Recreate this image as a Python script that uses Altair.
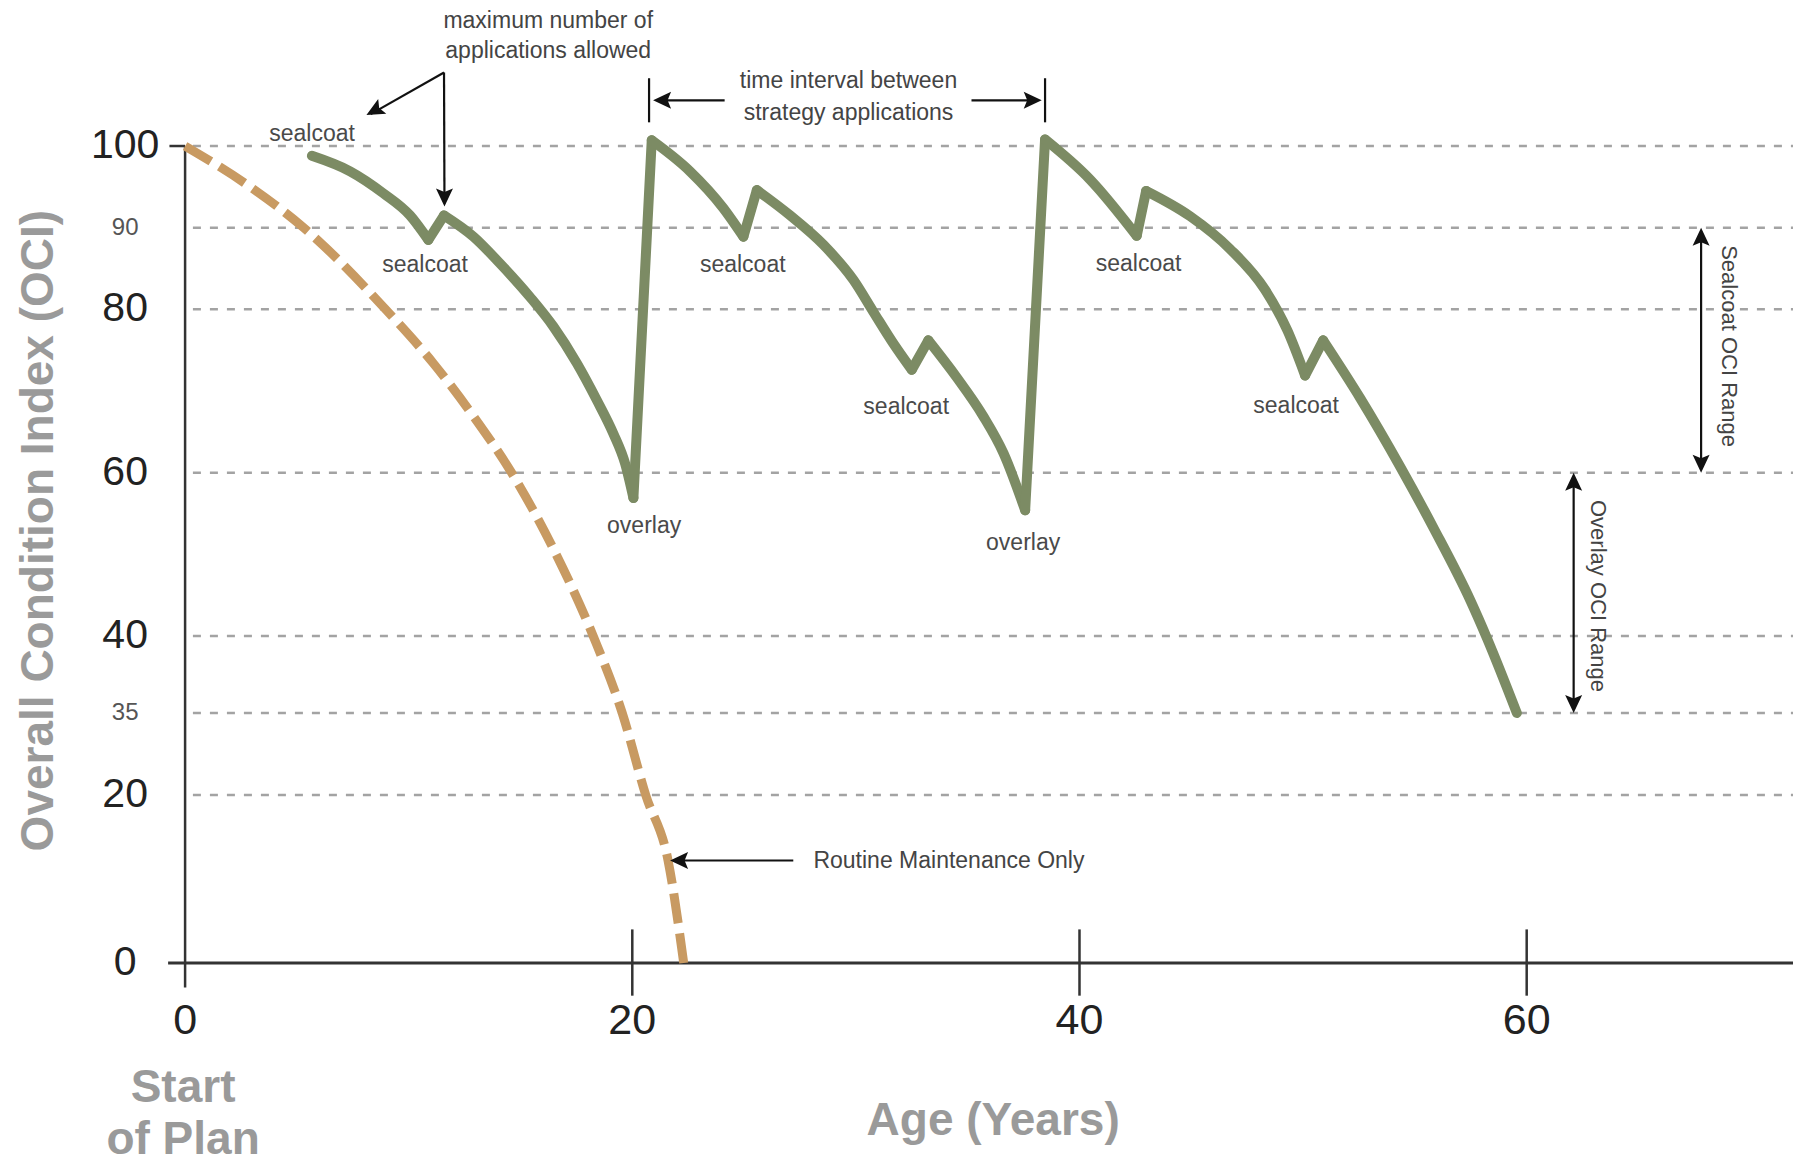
import altair as alt
import pandas as pd

# ---------------- data ----------------
# strategy curve (sealcoat / overlay applications)
green_x = [5.67, 7.38, 8.87, 10.06, 10.88, 11.58, 12.9, 14.09, 15.43, 16.47, 17.52, 18.41,
           19.15, 19.68, 20.05, 20.87, 22.58, 24.07, 24.97, 25.57, 27.06, 28.55, 29.89, 30.78,
           31.68, 32.5, 33.24, 34.5, 35.7, 36.6, 37.57, 38.46, 40.47, 42.56, 42.98, 44.95,
           46.73, 48.3, 49.3, 50.09, 50.9, 52.56, 54.35, 55.84, 57.49, 58.24, 59.56]
green_y = [98.8, 96.9, 94.2, 91.5, 88.5, 91.5, 88.9, 85.6, 81.5, 77.9, 73.4, 68.9,
           64.8, 61.1, 56.9, 100.7, 96.9, 92.4, 88.9, 94.6, 91.5, 87.9, 83.6, 79.7,
           75.8, 72.6, 76.2, 71.7, 66.9, 62.4, 55.4, 100.8, 95.9, 89.0, 94.5, 91.4,
           87.4, 82.4, 77.4, 71.9, 76.2, 69.1, 60.7, 53.2, 44.3, 39.8, 35.0]
# indices of the points where a treatment is applied (corners of the curve)
green_corners = [4, 5, 14, 15, 18, 19, 25, 26, 30, 31, 33, 34, 39, 40]

# routine maintenance only curve
orange_x = [0, 2.7, 5.3, 8.9, 11.1, 12.9, 14.6, 16.45, 18.25, 19.55, 20.6, 21.6, 22.3]
orange_y = [100, 95.4, 90, 80.2, 73.4, 66.9, 60, 50.8, 40, 35, 20, 12.2, 0]

grid_levels = [100, 90, 80, 60, 40, 35, 20]
y_big_ticks = [100, 80, 60, 40, 20, 0]
y_small_ticks = [90, 35]
x_ticks = [0, 20, 40, 60]

# annotation labels (data coordinates)
label_text = ["sealcoat", "sealcoat", "overlay", "sealcoat", "sealcoat", "overlay", "sealcoat", "sealcoat"]
label_x = [5.68, 10.73, 20.53, 24.94, 32.25, 37.48, 42.64, 49.69]
label_y = [101.5, 85.4, 53.5, 85.4, 68.1, 51.4, 85.5, 68.2]

note_text = ["maximum number of", "applications allowed", "time interval between",
             "strategy applications"]
note_x = [16.24, 16.24, 29.67, 29.67]
note_y = [115.3, 111.6, 108.0, 104.1]

# ---------------- scales ----------------
X_MIN, X_MAX = -7.92, 71.91
W, H = 1785, 1158
Y_BREAKS = [-24.85, 0, 20, 35, 40, 116.9]
Y_RANGE = [1158, 955, 787, 705, 628, 0]

XS = alt.Scale(domain=[X_MIN, X_MAX], nice=False, zero=False)
YS = alt.Scale(domain=Y_BREAKS, range=Y_RANGE, nice=False, zero=False)

FONT = "Liberation Sans, Arial, Helvetica, sans-serif"
AX = "#333333"


def X(f="x"):
    return alt.X(f"{f}:Q", scale=XS, axis=None)


def Y(f="y"):
    return alt.Y(f"{f}:Q", scale=YS, axis=None)


layers = []

# dashed gridlines
grid = pd.DataFrame({"x": [0.35] * len(grid_levels), "x2": [X_MAX] * len(grid_levels),
                     "y": grid_levels})
layers.append(alt.Chart(grid).mark_rule(color="#a3a3a3", strokeWidth=2.5, strokeDash=[8, 9])
              .encode(x=X(), x2="x2:Q", y=Y()))

# axes lines
axes = pd.DataFrame({
    "x": [0, -0.76, -0.7, 20, 40, 60],
    "x2": [0, X_MAX, 0, 20, 40, 60],
    "y": [-3, 0, 100, -4, -4, -4],
    "y2": [100, 0, 100, 4, 4, 4],
    "w": [2.5, 3.2, 2.5, 2.5, 2.5, 2.5],
})
layers.append(alt.Chart(axes).mark_rule(color=AX)
              .encode(x=X(), x2="x2:Q", y=Y(), y2="y2:Q",
                      strokeWidth=alt.StrokeWidth("w:Q", scale=None, legend=None)))

# routine maintenance curve
orange = pd.DataFrame({"x": orange_x, "y": orange_y, "o": range(len(orange_x))})
layers.append(alt.Chart(orange).mark_line(color="#c89a62", strokeWidth=9, strokeDash=[30, 10],
                                           interpolate="monotone")
              .encode(x=X(), y=Y(), order="o:Q"))

# strategy curve: smooth pieces between treatment corners
bounds = [0] + green_corners + [len(green_x) - 1]
rows = []
for s in range(len(bounds) - 1):
    for i in range(bounds[s], bounds[s + 1] + 1):
        rows.append({"x": green_x[i], "y": green_y[i], "o": i, "seg": s})
green = pd.DataFrame(rows)
layers.append(alt.Chart(green).mark_line(color="#7c8b64", strokeWidth=10, strokeCap="round",
                                          strokeJoin="round", interpolate="monotone")
              .encode(x=X(), y=Y(), order="o:Q", detail="seg:N"))

# arrow shafts and bars
shafts = pd.DataFrame({
    "x": [11.58, 11.58, 24.13, 35.17, 20.75, 38.46, 27.2, 67.8, 62.1],
    "x2": [8.3, 11.6, 21.1, 38.1, 20.75, 38.46, 21.9, 67.8, 62.1],
    "y": [109.0, 109.0, 105.6, 105.6, 102.9, 102.9, 12.2, 89.5, 59.5],
    "y2": [103.9, 93.0, 105.6, 105.6, 108.3, 108.3, 12.2, 60.5, 35.5],
})
layers.append(alt.Chart(shafts).mark_rule(color="#111111", strokeWidth=2.2)
              .encode(x=X(), x2="x2:Q", y=Y(), y2="y2:Q"))

# arrow heads (tip at the point, rotated clockwise from "up")
HEAD = "M0,0L0.85,1.8L0,1.45L-0.85,1.8Z"
heads = pd.DataFrame({
    "x": [8.11, 11.6, 20.93, 38.31, 21.69, 67.8, 67.8, 62.1, 62.1],
    "y": [103.8, 92.6, 105.6, 105.6, 12.2, 90, 60, 60, 35],
    "a": [241.5, 180, 270, 90, 270, 0, 180, 0, 180],
})
layers.append(alt.Chart(heads).mark_point(shape=HEAD, filled=True, color="#111111", size=400,
                                           opacity=1, strokeWidth=0)
              .encode(x=X(), y=Y(), angle=alt.Angle("a:Q", scale=None)))

# curve labels
labels = pd.DataFrame({"x": label_x, "y": label_y, "t": label_text})
layers.append(alt.Chart(labels).mark_text(font=FONT, fontSize=23, color="#4a4a4a",
                                           align="center", baseline="middle")
              .encode(x=X(), y=Y(), text="t:N"))

notes = pd.DataFrame({"x": note_x, "y": note_y, "t": note_text})
layers.append(alt.Chart(notes).mark_text(font=FONT, fontSize=23, color="#444444",
                                          align="center", baseline="middle")
              .encode(x=X(), y=Y(), text="t:N"))

routine = pd.DataFrame({"x": [28.1], "y": [12.2], "t": ["Routine Maintenance Only"]})
layers.append(alt.Chart(routine).mark_text(font=FONT, fontSize=23, color="#444444",
                                            align="left", baseline="middle")
              .encode(x=X(), y=Y(), text="t:N"))

ranges = pd.DataFrame({"x": [69.05, 63.19], "y": [75.5, 44.9],
                       "t": ["Sealcoat OCI Range", "Overlay OCI Range"]})
layers.append(alt.Chart(ranges).mark_text(font=FONT, fontSize=22, color="#444444", angle=90,
                                           align="center", baseline="middle")
              .encode(x=X(), y=Y(), text="t:N"))

# tick labels
ybig = pd.DataFrame({"x": [-2.68] * len(y_big_ticks), "y": y_big_ticks,
                     "t": [str(v) for v in y_big_ticks]})
layers.append(alt.Chart(ybig).mark_text(font=FONT, fontSize=41, color="#222222",
                                         align="center", baseline="middle")
              .encode(x=X(), y=Y(), text="t:N"))

ysmall = pd.DataFrame({"x": [-2.68] * len(y_small_ticks), "y": y_small_ticks,
                       "t": [str(v) for v in y_small_ticks]})
layers.append(alt.Chart(ysmall).mark_text(font=FONT, fontSize=24, color="#555555",
                                           align="center", baseline="middle")
              .encode(x=X(), y=Y(), text="t:N"))

xlab = pd.DataFrame({"x": x_ticks, "y": [-7.1] * len(x_ticks), "t": [str(v) for v in x_ticks]})
layers.append(alt.Chart(xlab).mark_text(font=FONT, fontSize=43, color="#222222",
                                         align="center", baseline="middle")
              .encode(x=X(), y=Y(), text="t:N"))

# axis titles
titles = pd.DataFrame({"x": [36.14, -0.09, -0.09], "y": [-19.34, -15.3, -21.7],
                       "t": ["Age (Years)", "Start", "of Plan"]})
layers.append(alt.Chart(titles).mark_text(font=FONT, fontSize=46, fontWeight="bold",
                                           color="#9a9a9a", align="center", baseline="middle")
              .encode(x=X(), y=Y(), text="t:N"))

ytitle = pd.DataFrame({"x": [-6.55], "y": [52.9], "t": ["Overall Condition Index (OCI)"]})
layers.append(alt.Chart(ytitle).mark_text(font=FONT, fontSize=46, fontWeight="bold",
                                           color="#9a9a9a", angle=270,
                                           align="center", baseline="middle")
              .encode(x=X(), y=Y(), text="t:N"))

chart = (alt.layer(*layers)
         .properties(width=W, height=H, autosize=alt.AutoSizeParams(type="none"), padding=0,
                     background="white")
         .configure_view(stroke=None))

chart.save("out.html", embed_options={"renderer": "svg", "actions": False})
